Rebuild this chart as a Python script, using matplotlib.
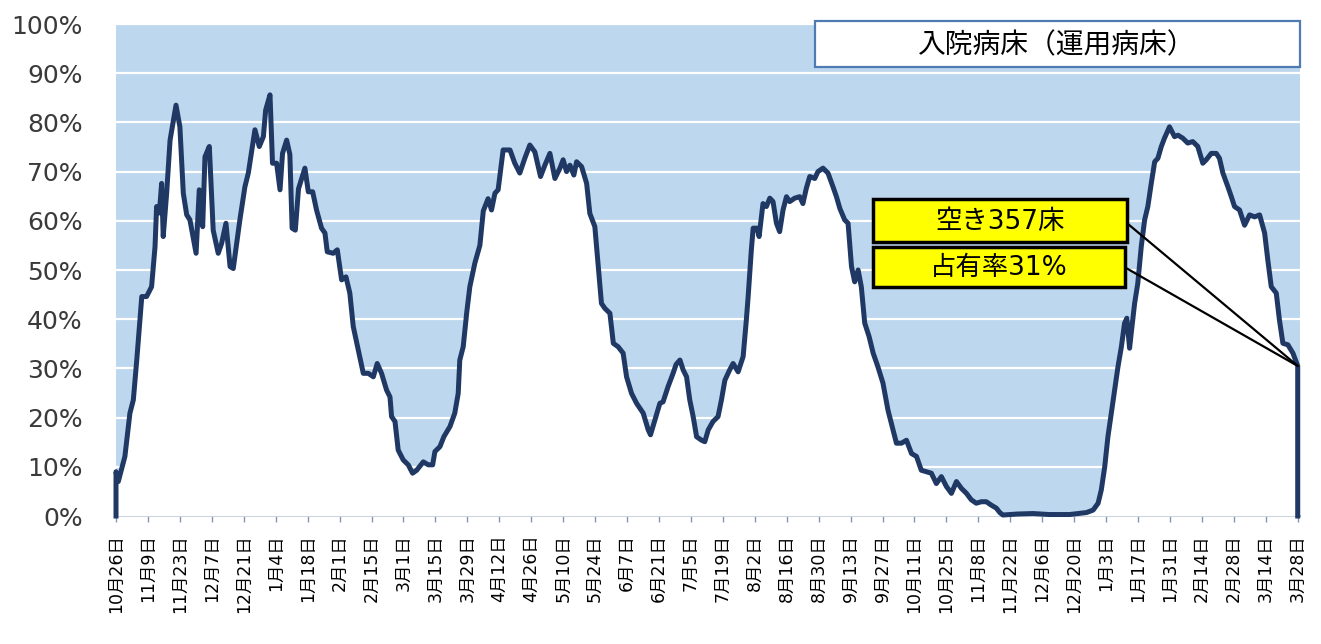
import numpy as np
import matplotlib.pyplot as plt
from matplotlib.patches import Rectangle

# ── Data ────────────────────────────────────────────────────────────────────
# day offset from 10月26日, occupancy in %
DAY = [0, 1, 3.9, 6.1, 7.6, 9.1, 11.3, 13.4, 15.6, 17.1, 17.8, 19.0, 20.0, 20.7,
       22.2, 23.7, 26.3, 28.0, 29.5, 31.0, 32.4, 35.1, 36.5, 38.0, 39.0, 40.9,
       42.6, 44.8, 46.3, 48.2, 50.0, 51.4, 54.3, 56.5, 58.0, 60.9, 62.8, 64.6,
       65.6, 67.5, 68.6, 70.4, 71.9, 73.0, 74.8, 76.2, 77.2, 78.6, 80.0, 82.8,
       84.3, 86.2, 87.9, 90.1, 91.6, 92.6, 95.2, 97.0, 98.9, 100.8, 102.5, 104.0,
       106.2, 108.4, 110.6, 112.8, 114.5, 116.4, 118.6, 120.1, 120.8, 122.3,
       123.7, 125.9, 128.1, 130.0, 131.8, 134.7, 136.9, 138.8, 139.8, 142.0,
       143.7, 146.4, 148.5, 150.0, 150.7, 152.2, 153.7, 155.1, 157.3, 159.5,
       161.0, 163.1, 164.6, 166.1, 167.5, 169.7, 172.7, 174.8, 177.0, 179.2,
       181.4, 183.6, 186.1, 188.0, 190.2, 192.4, 194.6, 196.0, 197.5, 199.0,
       200.7, 201.9, 204.1, 206.3, 207.7, 209.9, 211.4, 212.8, 214.3, 216.5,
       218.0, 220.1, 222.3, 223.8, 226.0, 228.2, 231.1, 233.3, 234.3, 236.2,
       238.4, 239.8, 242.0, 244.2, 245.5, 247.2, 248.6, 250.1, 251.5, 253.0,
       254.5, 256.7, 258.1, 259.6, 261.7, 263.9, 265.4, 266.9, 269.0, 270.5,
       272.7, 274.9, 276.3, 277.1, 278.5, 279.3, 281.0, 281.9, 283.6, 285.1,
       286.6, 288.0, 289.5, 290.9, 292.4, 293.9, 295.3, 297.5, 299.7, 301.1,
       302.6, 304.1, 306.3, 307.7, 309.9, 312.1, 314.3, 315.8, 317.3, 319.4,
       320.9, 322.4, 323.8, 325.3, 326.7, 328.2, 330.1, 331.9, 334.0, 336.2,
       338.4, 340.6, 342.1, 344.3, 346.5, 348.7, 350.9, 353.0, 355.2, 357.4,
       359.6, 361.8, 364.0, 366.2, 368.4, 370.6, 372.8, 374.9, 377.1, 379.3,
       381.5, 383.7, 385.9, 387.4, 388.8, 395, 402, 409, 418, 425.4, 428.3,
       430.5, 431.9, 433.4, 434.8, 436.3, 437.8, 439.2, 440.7, 442.1, 443.1,
       444.3, 445.0, 446.5, 447.9, 449.4, 450.9, 452.3, 453.8, 455.3, 456.7,
       458.2, 459.6, 461.8, 464.0, 465.5, 467.6, 469.8, 472.0, 474.2, 476.4,
       477.9, 480.1, 482.3, 483.7, 485.2, 487.4, 488.9, 490.3, 492.5, 494.7,
       496.9, 499.1, 501.3, 503.5, 504.9, 506.4, 508.6, 510.0, 511.5, 513.7,
       515.9, 518.0]
OCC = [9.0, 7.0, 12.1, 20.9, 23.6, 31.7, 44.6, 44.6, 46.6, 54.7, 62.9, 61.6, 67.6, 56.8,
       65.6, 76.4, 83.5, 79.1, 65.6, 61.2, 60.2, 53.4, 66.3, 58.8, 73.0, 75.1,
       58.1, 53.4, 55.4, 59.5, 50.7, 50.3, 60.2, 66.9, 69.7, 78.5, 75.1, 77.1,
       82.5, 85.6, 71.7, 71.7, 66.3, 73.7, 76.4, 73.5, 58.5, 58.1, 66.5, 70.7,
       65.9, 65.9, 62.2, 58.5, 57.5, 53.7, 53.4, 54.1, 48.0, 48.6, 45.3, 38.5,
       33.7, 29.0, 29.0, 28.3, 31.0, 29.0, 25.6, 24.2, 20.2, 19.2,
       13.4, 11.4, 10.4, 8.7, 9.3, 11.0, 10.4, 10.4, 13.1, 14.1,
       16.1, 18.2, 20.9, 24.9, 31.7, 34.4, 41.2, 46.6, 51.4, 55.0,
       62.0, 64.5, 62.2, 65.6, 66.3, 74.4, 74.4, 71.7, 69.7, 72.7,
       75.4, 74.0, 69.0, 71.3, 73.7, 68.6, 70.7, 72.4, 70.0, 71.3,
       69.3, 72.0, 71.0, 67.6, 61.5, 58.8, 50.7, 43.2, 42.2, 41.2,
       35.1, 34.4, 33.1, 28.3, 24.9, 22.9, 20.9, 17.5, 16.5, 19.5,
       22.9, 23.2, 26.3, 29.0, 30.8, 31.7, 29.7, 28.3, 23.6, 20.2,
       16.1, 15.4, 15.1, 17.5, 19.2, 20.2, 23.6, 27.6, 29.7, 31.0,
       29.3, 32.4, 39.8, 44.6, 54.1, 58.5, 58.5, 56.8, 63.5, 62.9,
       64.6, 63.9, 59.5, 57.8, 62.2, 64.9, 63.9, 64.6, 64.9, 63.5,
       66.6, 69.0, 68.6, 70.0, 70.7, 69.7, 66.9, 64.9, 62.5, 60.2,
       59.5, 50.7, 47.6, 50.0, 46.6, 39.2, 36.5, 33.1, 30.3, 27.0,
       21.5, 17.5, 14.8, 14.8, 15.4, 12.7, 12.1, 9.3, 9.0, 8.7,
       6.6, 8.0, 6.0, 4.6, 7.0, 5.6, 4.6, 3.3, 2.6, 2.9,
       2.9, 2.2, 1.6, 0.7, 0.2, 0.4, 0.5, 0.3, 0.3, 0.7, 1.2,
       2.6, 5.3, 10.0, 16.1, 20.9, 25.6, 30.3, 34.4, 39.2, 40.2,
       34.1, 37.1, 43.2, 47.3, 54.7, 60.2, 62.9, 67.6, 72.0, 72.7,
       75.1, 76.8, 79.1, 77.1, 77.4, 76.8, 75.8, 76.1, 75.1, 71.7,
       72.4, 73.7, 73.7, 72.7, 69.7, 66.9, 64.9, 62.9, 62.2, 59.1,
       61.2, 60.8, 61.2, 57.5, 52.0, 46.6, 45.3, 39.8, 35.1, 34.8,
       33.1, 30.5]

TICK_LABELS = ['10月26日', '11月9日', '11月23日', '12月7日', '12月21日', '1月4日',
               '1月18日', '2月1日', '2月15日', '3月1日', '3月15日', '3月29日',
               '4月12日', '4月26日', '5月10日', '5月24日', '6月7日', '6月21日',
               '7月5日', '7月19日', '8月2日', '8月16日', '8月30日', '9月13日',
               '9月27日', '10月11日', '10月25日', '11月8日', '11月22日', '12月6日',
               '12月20日', '1月3日', '1月17日', '1月31日', '2月14日', '2月28日',
               '3月14日', '3月28日']
TICK_STEP = 14  # days between labels

TITLE = '入院病床（運用病床）'
NOTE_FREE = '空き357床'
NOTE_RATE = '占有率31%'

# ── Style ────────────────────────────────────────────────────────────────────
W, H = 1321, 644
JP = ['Noto Sans CJK JP', 'DejaVu Sans']
WIDE = ['DejaVu Sans', 'Noto Sans CJK JP']  # wider latin digits, CJK from Noto
NAVY = '#1F3864'
SKY = '#BDD7EE'


def fx(px):
    return px / W


def fy(py):
    return 1 - py / H


fig = plt.figure(figsize=(W / 100, H / 100), dpi=100)
ax = fig.add_axes([fx(116), fy(516), fx(1300) - fx(116), fy(24) - fy(516)])
ax.set_facecolor(SKY)
ax.set_axisbelow(True)

# white area under the curve, outlined (edges drop to 0 at both ends)
ax.fill_between(DAY, OCC, 0, color='white', zorder=2, lw=0)
xs = [DAY[0]] + DAY + [DAY[-1]]
ys = [0] + OCC + [0]
ax.plot(xs, ys, color=NAVY, lw=3.6, solid_joinstyle='round', zorder=3, clip_on=False)

ax.set_xlim(0, 519)
ax.set_ylim(0, 100)
ax.set_yticks(np.arange(0, 101, 10))
ax.set_yticklabels([f'{v}%' for v in range(0, 101, 10)])
ax.set_xticks(np.arange(len(TICK_LABELS)) * TICK_STEP)
ax.set_xticklabels(TICK_LABELS, rotation=90, family=WIDE, fontsize=12.5)

ax.grid(True, axis='y', color='white', lw=1.6)
for side in ['top', 'right', 'left']:
    ax.spines[side].set_visible(False)
ax.spines['bottom'].set_color('#8497B0')
ax.spines['bottom'].set_linewidth(1.2)
ax.spines['bottom'].set_zorder(1)
ax.tick_params(axis='x', length=4, color='#8497B0', width=1, pad=9)
ax.tick_params(axis='y', length=0, pad=24, labelsize=18, labelcolor='#3A3A3A')

# title box
fig.add_artist(Rectangle((fx(815), fy(67)), fx(1300) - fx(815), fy(21) - fy(67),
                         transform=fig.transFigure, facecolor='white',
                         edgecolor='#4F7BB5', lw=1.6, zorder=5))
fig.text(fx(1057), fy(45), TITLE, ha='center', va='center', fontsize=20,
         family=JP, zorder=6)

# yellow callouts
end_pt = (DAY[-1], OCC[-1])
for text, (x0, y0, x1, y1), lead in [
        (NOTE_FREE, (873, 199, 1127, 242), (1128, 224)),
        (NOTE_RATE, (873, 247, 1125, 287), (1126, 268))]:
    fig.add_artist(Rectangle((fx(x0), fy(y1)), fx(x1) - fx(x0), fy(y0) - fy(y1),
                             transform=fig.transFigure, facecolor='#FFFF00',
                             edgecolor='black', lw=2.5, zorder=5))
    fig.text(fx((x0 + x1) / 2), fy((y0 + y1) / 2 + 1), text, ha='center',
             va='center', fontsize=19, family=WIDE, zorder=6)
    ax.annotate('', xy=end_pt, xytext=(lead[0], H - lead[1]),
                textcoords='figure pixels', annotation_clip=False,
                arrowprops=dict(arrowstyle='-', color='black', lw=1.6,
                                shrinkA=0, shrinkB=0), zorder=4)

fig.savefig('out.png', dpi=100)
